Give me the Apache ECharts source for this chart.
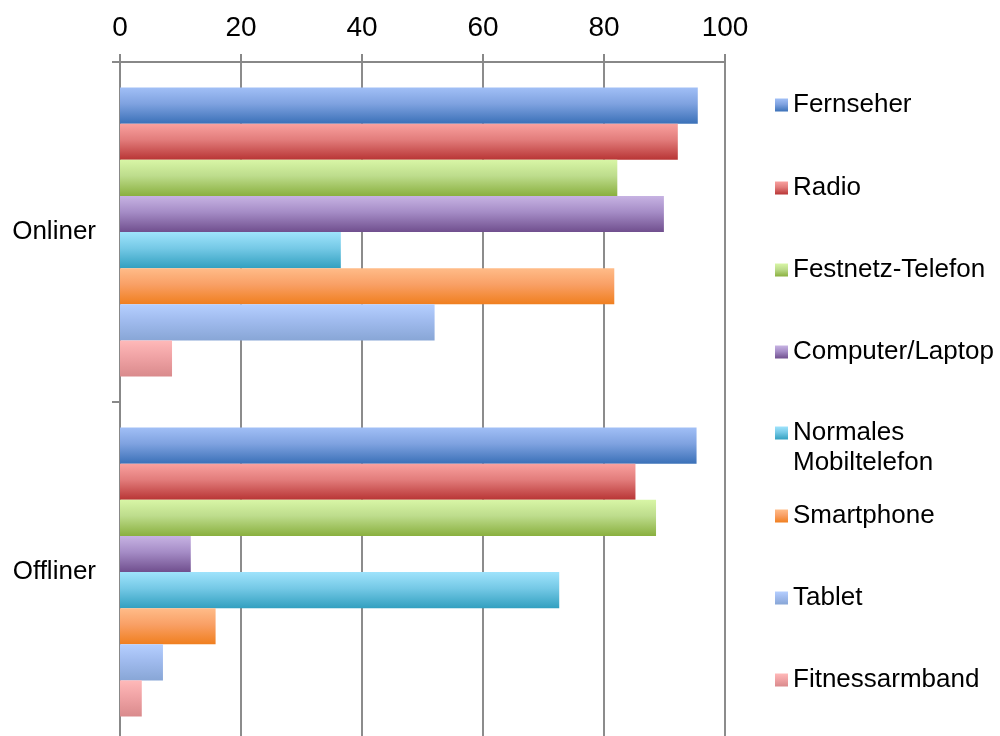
<!DOCTYPE html>
<html>
<head>
<meta charset="utf-8">
<script src="https://cdn.jsdelivr.net/npm/echarts@6/dist/echarts.min.js"></script>
<style>
html,body{margin:0;padding:0;background:#fff;overflow:hidden;}
#chart{width:1000px;height:742px;}
</style>
</head>
<body>
<div id="chart"></div>
<script>
const categories = ["Onliner", "Offliner"];
const seriesNames = ["Fernseher", "Radio", "Festnetz-Telefon", "Computer/Laptop", "Normales Mobiltelefon", "Smartphone", "Tablet", "Fitnessarmband"];
const fernseher = [95.5, 95.3];
const radio = [92.2, 85.2];
const festnetz = [82.2, 88.6];
const computer = [89.9, 11.7];
const normales = [36.5, 72.6];
const smartphone = [81.7, 15.8];
const tablet = [52.0, 7.1];
const fitness = [8.6, 3.6];
const xTicks = [0, 20, 40, 60, 80, 100];

const values = [fernseher, radio, festnetz, computer, normales, smartphone, tablet, fitness];
const gradients = [
  ["#a1bff6", "#7fa2e0", "#3b71b8"],
  ["#f9a19f", "#e27c7b", "#b83535"],
  ["#d8f6a6", "#bddc8c", "#8ab03f"],
  ["#c7b3e3", "#a58cc6", "#704f8e"],
  ["#9fe3fc", "#75c9e6", "#32a0c0"],
  ["#ffbc89", "#f9a066", "#f07f1f"],
  ["#b5cfff", "#a0bbee", "#88a6d6"],
  ["#ffb9b9", "#f0a3a5", "#d98a8c"]
];
const FONT = "'Liberation Sans', Arial, sans-serif";

const series = seriesNames.map((n, i) => ({
  name: n,
  type: 'bar',
  data: values[i],
  barGap: '0%',
  barCategoryGap: '15%',
  itemStyle: {
    color: new echarts.graphic.LinearGradient(0, 0, 0, 1, [
      {offset: 0, color: gradients[i][0]},
      {offset: 0.45, color: gradients[i][1]},
      {offset: 1, color: gradients[i][2]}
    ])
  },
  emphasis: {disabled: true}
}));

const legendTops = [90, 173, 255, 337, 388, 501, 583, 665];
const legends = seriesNames.map((n, i) => ({
  data: [n],
  left: 775,
  top: legendTops[i],
  padding: 0,
  orient: 'vertical',
  itemWidth: 13,
  itemHeight: 13,
  itemGap: 8,
  selectedMode: false,
  icon: 'rect',
  formatter: n === "Normales Mobiltelefon" ? " \nNormales\nMobiltelefon" : undefined,
  textStyle: {fontFamily: FONT, fontSize: 26, color: '#000', lineHeight: 30}
}));

const chart = echarts.init(document.getElementById('chart'), null, {renderer: 'canvas'});
chart.setOption({
  animation: false,
  backgroundColor: '#fff',
  grid: {left: 120, top: 62, right: 275, bottom: 0, containLabel: false},
  legend: legends,
  xAxis: {
    type: 'value',
    position: 'top',
    min: 0, max: 100, interval: 20,
    axisLine: {show: true, lineStyle: {color: '#888', width: 2}},
    axisTick: {show: true, length: 8, lineStyle: {color: '#888', width: 2}},
    splitLine: {show: true, lineStyle: {color: '#8c8c8c', width: 2}},
    axisLabel: {fontFamily: FONT, fontSize: 28, color: '#000', margin: 20,
      formatter: v => xTicks.includes(v) ? String(v) : ''}
  },
  yAxis: {
    type: 'category',
    inverse: true,
    data: categories,
    axisLine: {show: true, lineStyle: {color: '#888', width: 2}},
    axisTick: {show: true, length: 8, lineStyle: {color: '#888', width: 2}},
    axisLabel: {fontFamily: FONT, fontSize: 26, color: '#000', margin: 24}
  },
  series: series
});
</script>
</body>
</html>
